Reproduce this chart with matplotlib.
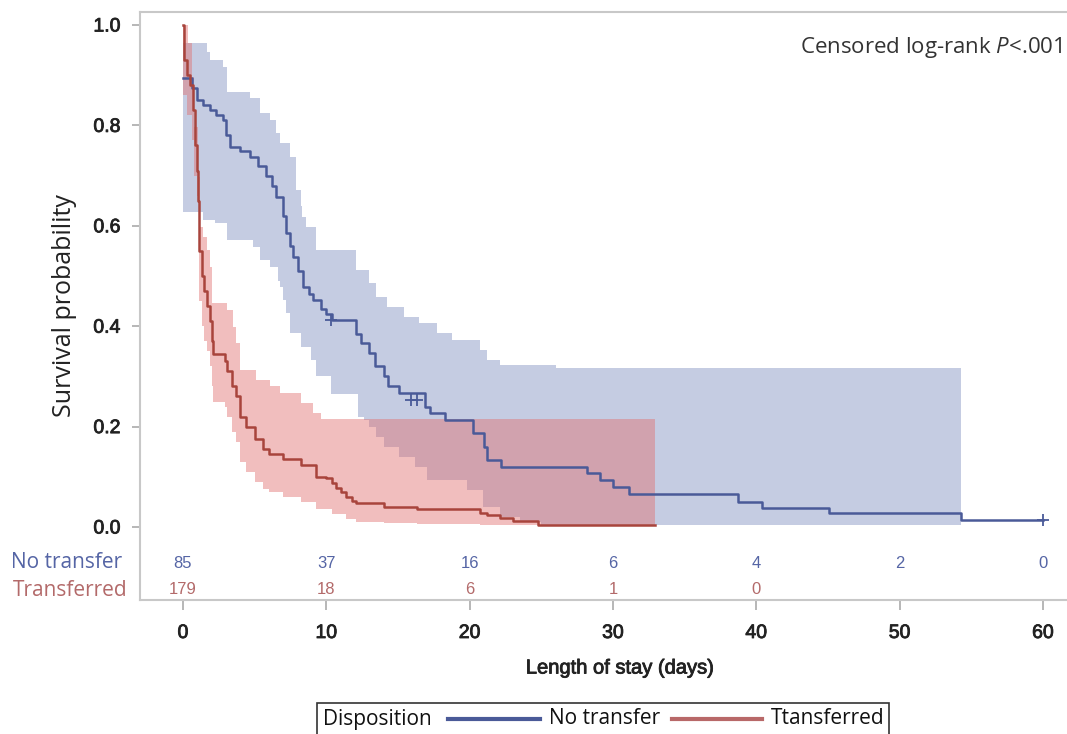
import matplotlib
matplotlib.use("Agg")
import matplotlib.pyplot as plt
import matplotlib.patheffects as pe
from matplotlib.lines import Line2D
from matplotlib.patches import Rectangle

plt.rcParams['font.family'] = ['Open Sans', 'DejaVu Sans']
plt.rcParams['mathtext.fontset'] = 'custom'
plt.rcParams['mathtext.rm'] = 'Open Sans'
plt.rcParams['mathtext.it'] = 'Open Sans:italic'

# ---- No transfer (blue) Kaplan-Meier estimate ----
nt_days = [0, 0.6, 0.95, 1.4, 1.9, 2.3, 2.8, 3.0, 3.3, 4.0, 4.7, 5.2, 5.8, 6.2, 6.5,
           7.0, 7.2, 7.5, 7.7, 8.0, 8.4, 8.8, 9.1, 9.6, 10.0, 10.4, 12.1, 12.4, 13.0,
           13.4, 14.0, 14.3, 15.1, 16.9, 17.2, 18.3, 20.2, 21.0, 21.2, 22.2, 28.2,
           29.1, 30.0, 31.1, 38.7, 40.4, 45.1, 54.3, 60.0]
nt_surv = [0.895, 0.875, 0.85, 0.84, 0.83, 0.82, 0.81, 0.78, 0.757, 0.75, 0.738, 0.72,
           0.70, 0.68, 0.658, 0.62, 0.585, 0.56, 0.538, 0.51, 0.478, 0.465, 0.452,
           0.435, 0.425, 0.412, 0.385, 0.366, 0.346, 0.32, 0.30, 0.28, 0.267, 0.24,
           0.227, 0.213, 0.187, 0.16, 0.133, 0.12, 0.107, 0.093, 0.08, 0.066, 0.05,
           0.037, 0.027, 0.0133, 0.0133]
nt_up_days = [0, 1.65, 1.9, 2.8, 3.05, 4.7, 5.4, 6.1, 6.5, 6.8, 7.5, 7.9, 8.2, 8.3,
              8.6, 9.3, 12.1, 13.0, 13.5, 14.2, 15.4, 16.5, 17.7, 18.8, 20.7, 21.2,
              22.1, 26.0, 54.3]
nt_up = [0.965, 0.947, 0.93, 0.917, 0.867, 0.855, 0.825, 0.81, 0.785, 0.765, 0.738,
         0.671, 0.64, 0.618, 0.598, 0.552, 0.512, 0.486, 0.459, 0.439, 0.419, 0.406,
         0.386, 0.372, 0.353, 0.333, 0.323, 0.316, 0.316]
nt_lo_days = [0, 1.4, 2.2, 3.05, 4.9, 5.4, 6.1, 6.6, 6.8, 7.0, 7.2, 7.5, 8.2, 8.9,
              9.3, 10.3, 12.2, 12.6, 13.0, 13.5, 14.0, 15.1, 16.2, 17.0, 19.8, 20.9,
              22.1, 23.5, 25.0, 54.3]
nt_lo = [0.628, 0.612, 0.605, 0.572, 0.558, 0.532, 0.518, 0.49, 0.478, 0.452, 0.426,
         0.386, 0.359, 0.333, 0.30, 0.265, 0.22, 0.213, 0.20, 0.18, 0.16, 0.14, 0.12,
         0.093, 0.073, 0.04, 0.02, 0.01, 0.004, 0.004]
nt_cens_days = [10.3, 15.9, 16.3, 60.0]
nt_cens_surv = [0.412, 0.253, 0.253, 0.0133]

# ---- Transferred (red) Kaplan-Meier estimate ----
tr_days = [0, 0.1, 0.3, 0.5, 0.7, 0.85, 0.95, 1.05, 1.15, 1.3, 1.5, 1.7, 1.9, 2.0,
           2.1, 2.9, 3.1, 3.4, 3.7, 4.0, 4.4, 5.0, 5.6, 6.0, 7.0, 8.2, 9.3, 10.0,
           10.4, 10.7, 11.0, 11.4, 11.8, 12.1, 14.0, 16.3, 20.7, 21.2, 22.1, 23.0,
           24.8, 32.9]
tr_surv = [1.0, 0.93, 0.90, 0.88, 0.83, 0.76, 0.71, 0.65, 0.55, 0.50, 0.47, 0.44,
           0.41, 0.37, 0.345, 0.33, 0.31, 0.28, 0.26, 0.22, 0.20, 0.175, 0.155, 0.145,
           0.135, 0.124, 0.10, 0.097, 0.087, 0.078, 0.07, 0.06, 0.052, 0.047, 0.04,
           0.035, 0.028, 0.024, 0.018, 0.012, 0.004, 0.004]
tr_up_days = [0, 0.35, 0.6, 0.8, 1.05, 1.2, 1.4, 1.65, 1.9, 2.0, 3.05, 3.5, 3.7, 4.0,
              5.1, 6.1, 6.8, 8.2, 9.1, 9.6, 32.9]
tr_up = [1.0, 0.964, 0.897, 0.797, 0.698, 0.598, 0.578, 0.552, 0.518, 0.446, 0.432,
         0.399, 0.366, 0.313, 0.293, 0.28, 0.267, 0.247, 0.227, 0.215, 0.215]
tr_lo_days = [0, 0.3, 0.6, 0.8, 0.95, 1.1, 1.3, 1.5, 1.7, 1.9, 2.0, 2.1, 2.9, 3.1,
              3.4, 3.7, 4.0, 4.4, 5.0, 5.6, 6.0, 7.0, 8.2, 9.3, 10.4, 11.4, 12.1,
              14.0, 16.3, 20.7, 24.8, 32.9]
tr_lo = [0.86, 0.82, 0.77, 0.70, 0.66, 0.45, 0.40, 0.37, 0.35, 0.32, 0.28, 0.25, 0.24,
         0.22, 0.19, 0.17, 0.13, 0.11, 0.09, 0.075, 0.07, 0.06, 0.05, 0.035, 0.025,
         0.015, 0.01, 0.008, 0.006, 0.004, 0.002, 0.002]

# ---- Risk table ----
risk_times = [0, 10, 20, 30, 40, 50, 60]
risk_no_transfer = [85, 37, 16, 6, 4, 2, 0]
risk_transferred = [179, 18, 6, 1, 0]

x_ticks = [0, 10, 20, 30, 40, 50, 60]
y_ticks = [0.0, 0.2, 0.4, 0.6, 0.8, 1.0]

BLUE_LINE = '#4a5a98'
BLUE_FILL = '#7080b8'
RED_LINE = '#a8443c'
RED_FILL = '#e07070'
BLUE_TXT = '#5565a5'
RED_TXT = '#b36a6a'
TICK_FONT = 'Liberation Sans'
TXT_DARK = '#222222'
semi = [pe.withStroke(linewidth=0.6, foreground=TXT_DARK)]

W, H = 1067, 734
fig = plt.figure(figsize=(W / 100, H / 100), dpi=100)
ax = fig.add_axes([140 / W, 1 - 600 / H, (W - 140) / W, (600 - 12) / H])


def band(days_u, up, days_l, lo):
    grid = sorted(set(days_u) | set(days_l))
    u = [up[max(i for i, d in enumerate(days_u) if d <= g)] for g in grid]
    l = [lo[max(i for i, d in enumerate(days_l) if d <= g)] for g in grid]
    return grid, u, l


g, u, l = band(nt_up_days, nt_up, nt_lo_days, nt_lo)
ax.fill_between(g, l, u, step='post', color=BLUE_FILL, alpha=0.40, lw=0)
g, u, l = band(tr_up_days, tr_up, tr_lo_days, tr_lo)
ax.fill_between(g, l, u, step='post', color=RED_FILL, alpha=0.45, lw=0)

ax.step(nt_days, nt_surv, where='post', color=BLUE_LINE, lw=1.8)
ax.step(tr_days, tr_surv, where='post', color=RED_LINE, lw=1.8)
ax.plot(nt_cens_days, nt_cens_surv, ls='none', marker='+', ms=9, mew=1.3, color=BLUE_LINE)

ax.set_xlim((140 - 183) / 14.333, (W - 183) / 14.333)
ax.set_ylim((527 - 600) / 502, (527 - 12) / 502)
ax.set_xticks(x_ticks)
ax.set_yticks(y_ticks)
ax.set_xticklabels([str(t) for t in x_ticks], fontfamily=TICK_FONT, fontsize=14,
                   color=TXT_DARK, path_effects=semi)
ax.set_yticklabels(['%.1f' % t for t in y_ticks], fontfamily=TICK_FONT, fontsize=14,
                   color=TXT_DARK, path_effects=semi)
ax.tick_params(axis='x', length=7, pad=11, color='#aaaaaa', width=1.2)
ax.tick_params(axis='y', length=6, pad=8, color='#aaaaaa', width=1.2)
for s in ['left', 'bottom', 'top']:
    ax.spines[s].set_color('#c8c8c8')
    ax.spines[s].set_linewidth(1.5)
ax.spines['right'].set_visible(False)

ax.set_xlabel('Length of stay (days)', fontfamily=TICK_FONT, fontsize=14.5,
              color=TXT_DARK, path_effects=semi)
ax.xaxis.set_label_coords((620 - 140) / (W - 140), -(668 - 600) / (600 - 12))
ax.xaxis.label.set_va('center')
ax.set_ylabel('Survival probability', fontsize=18, color=TXT_DARK, labelpad=12)

ax.text(0.9946, 0.94, 'Censored log-rank $\\it{P}$<.001', transform=ax.transAxes,
        ha='right', va='center', fontsize=16, color='#333333')

# Risk table
y_nt = (527 - 563) / 502
y_tr = (527 - 590) / 502
for t, n in zip(risk_times, risk_no_transfer):
    ax.text(t, y_nt, str(n), ha='center', va='center', fontsize=12,
            fontfamily=TICK_FONT, color=BLUE_TXT)
for t, n in zip(risk_times, risk_transferred):
    ax.text(t, y_tr, str(n), ha='center', va='center', fontsize=12,
            fontfamily=TICK_FONT, color=RED_TXT)
ax.text(-0.019, y_nt, 'No transfer', transform=ax.get_yaxis_transform(), ha='right',
        va='center', fontsize=15, color=BLUE_TXT)
ax.text(-0.013, y_tr, 'Transferred', transform=ax.get_yaxis_transform(), ha='right',
        va='center', fontsize=15, color=RED_TXT)

# Legend box
fig.patches.append(Rectangle((317 / W, -0.05), (889 - 317) / W, 0.05 + 1 - 703 / H,
                             transform=fig.transFigure, fill=False, ec='#333333', lw=1.2))
ly = 1 - 719 / H
fig.text(323 / W, ly, 'Disposition', ha='left', va='center', fontsize=15, color='#111111')
fig.lines.append(Line2D([448 / W, 540 / W], [ly, ly], transform=fig.transFigure,
                        color=BLUE_LINE, lw=3))
fig.text(549 / W, ly, 'No transfer', ha='left', va='center', fontsize=15, color='#111111')
fig.lines.append(Line2D([672 / W, 762 / W], [ly, ly], transform=fig.transFigure,
                        color='#b86868', lw=3))
fig.text(771 / W, ly, 'Ttansferred', ha='left', va='center', fontsize=15, color='#111111')

fig.savefig('out.png', dpi=100)
